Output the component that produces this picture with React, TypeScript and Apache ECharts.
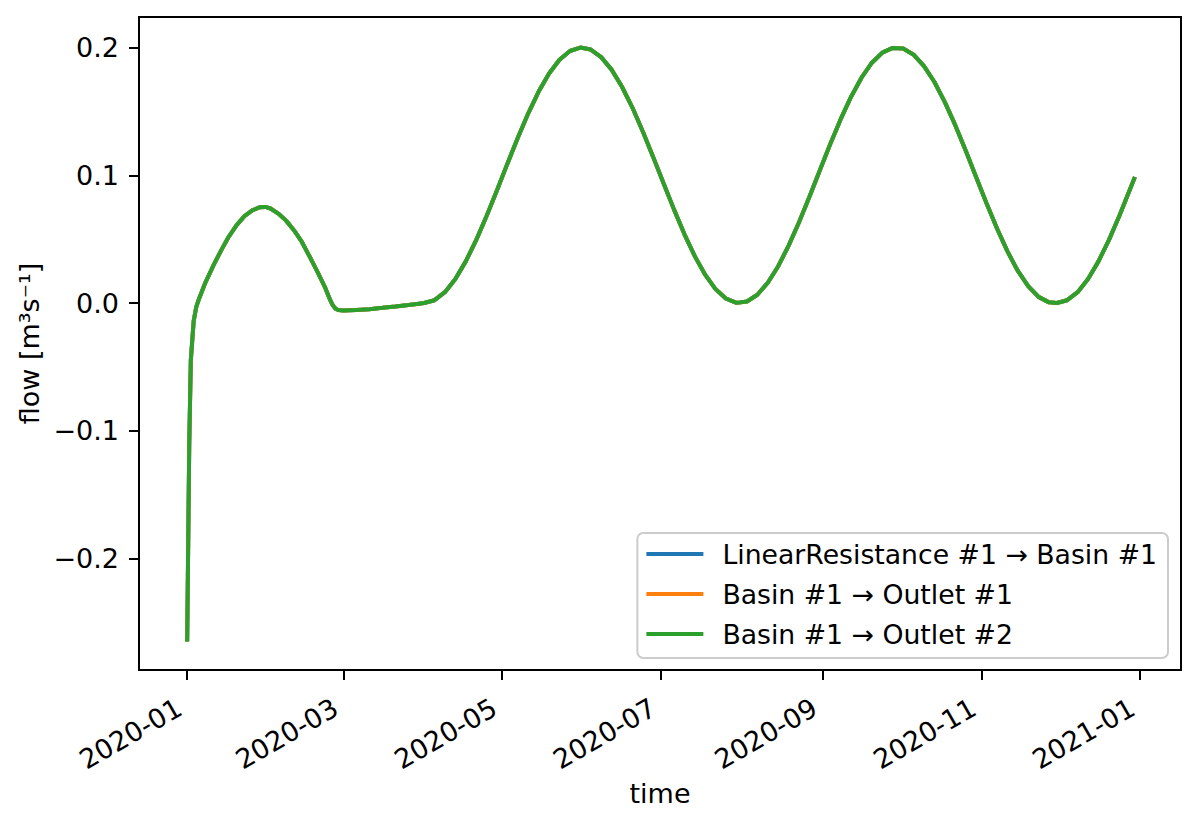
import React, { useEffect, useRef } from "react";
import * as echarts from "echarts";

// ---- data ----
const START_DATE = "2020-01-01";

// days since START_DATE
const dayOffsets: number[] = [
  0, 0.8, 1.4, 2.5, 3.5, 4.5, 7, 10, 13, 16, 19, 22, 25, 28, 30, 32, 35, 38, 41, 44, 47, 50, 53, 55, 56, 57, 58,
  60, 65, 70, 75, 80, 85, 89,
  91, 95, 99, 103, 107, 111, 115, 119, 123, 127, 131, 135, 139, 143, 147, 151, 155, 159, 163, 167, 171, 175, 179,
  183, 187, 191, 195, 199, 203, 207, 211,
  215, 219, 223, 227, 231, 235, 239, 243, 247, 251, 255, 259, 263, 267, 271, 275, 279, 283, 287, 291, 295, 299,
  303, 307, 311, 315, 319, 323, 327, 331,
  334, 338, 342, 346, 350, 354, 358, 361, 364,
];

// flow [m3/s]; the three series coincide, so they share these values
const flowValues: number[] = [
  -0.265, -0.11, -0.045, -0.014, -0.003, 0.003, 0.016, 0.029, 0.041, 0.052, 0.061, 0.068, 0.0725, 0.075, 0.0752,
  0.074, 0.07, 0.0645, 0.057, 0.048, 0.0365, 0.0245, 0.012, 0.002, -0.002, -0.0045, -0.0055,
  -0.0058, -0.0055, -0.0048, -0.0038, -0.0027, -0.0015, -0.0005,
  0.0, 0.0022, 0.0085, 0.0188, 0.0326, 0.0492, 0.0681, 0.0883, 0.1091, 0.1294, 0.1485, 0.1655, 0.1797, 0.1904,
  0.1973, 0.2, 0.1984, 0.1925, 0.1827, 0.1693, 0.153, 0.1343, 0.1142,
  0.0935, 0.0731, 0.0538, 0.0365, 0.022, 0.0107, 0.0034, 0.0001,
  0.0012, 0.0065, 0.0159, 0.0288, 0.0449, 0.0632, 0.0832, 0.1039, 0.1244, 0.1439, 0.1615, 0.1764, 0.1881, 0.196,
  0.1997, 0.1992, 0.1944, 0.1855, 0.173, 0.1573, 0.1392, 0.1194, 0.0987, 0.0781, 0.0585,
  0.0406, 0.0253, 0.0132, 0.0048, 0.0005,
  0.0, 0.0022, 0.0085, 0.0188, 0.0326, 0.0492, 0.0681, 0.0833, 0.0986,
];

const seriesNames: string[] = [
  "LinearResistance #1 \u2192 Basin #1",
  "Basin #1 \u2192 Outlet #1",
  "Basin #1 \u2192 Outlet #2",
];
const seriesColors: string[] = ["#1f77b4", "#ff7f0e", "#2ca02c"];

const xTickLabels: string[] = ["2020-01", "2020-03", "2020-05", "2020-07", "2020-09", "2020-11", "2021-01"];
const yTickValues: number[] = [-0.2, -0.1, 0.0, 0.1, 0.2];

const X_NAME = "time";
const Y_NAME = "flow [m\u00b3s\u207b\u00b9]";

// ---- helpers ----
const DAY_MS = 86400000;
const startMs = Date.parse(START_DATE + "T00:00:00Z");
const xTickDays = xTickLabels.map((l) => {
  const [y, m] = l.split("-").map(Number);
  return Math.round((Date.UTC(y, m - 1, 1) - startMs) / DAY_MS);
});
const xLabelFor = (v: number) => {
  const i = xTickDays.findIndex((d) => Math.abs(d - v) < 0.5);
  return i >= 0 ? xTickLabels[i] : "";
};
const yLabelFor = (v: number) => (v < -1e-9 ? "\u2212" : "") + Math.abs(v).toFixed(1);

const FONT = "DejaVu Sans";
const FS = 27;
const LEGEND_FS = 26.7;

export default function App() {
  const ref = useRef<HTMLDivElement>(null);

  useEffect(() => {
    if (!ref.current) return;
    const chart = echarts.init(ref.current, undefined, { renderer: "svg" });
    const points = dayOffsets.map((d, i) => [d, flowValues[i]]);

    chart.setOption({
      animation: false,
      backgroundColor: "#ffffff",
      textStyle: { fontFamily: FONT, color: "#000" },
      grid: {
        left: 139,
        right: 19,
        top: 17,
        bottom: 154,
        show: true,
        borderColor: "#000",
        borderWidth: 2,
        backgroundColor: "transparent",
      },
      xAxis: {
        type: "value",
        min: -18.5,
        max: 381.7,
        splitLine: { show: false },
        axisLine: { show: true, onZero: false, lineStyle: { color: "#000", width: 2 } },
        axisTick: {
          show: true,
          length: 10,
          customValues: xTickDays,
          lineStyle: { color: "#000", width: 2 },
        },
        axisLabel: {
          customValues: xTickDays,
          formatter: (v: number) => xLabelFor(v),
          rotate: 30,
          margin: 31,
          padding: [0, 9, 0, 0],
          fontSize: FS,
          color: "#000",
          fontFamily: FONT,
        },
        name: X_NAME,
        nameLocation: "middle",
        nameGap: 105,
        nameTextStyle: { fontSize: FS, color: "#000", fontFamily: FONT },
      },
      yAxis: {
        type: "value",
        min: -0.2873,
        max: 0.2239,
        splitLine: { show: false },
        axisLine: { show: true, onZero: false, lineStyle: { color: "#000", width: 2 } },
        axisTick: {
          show: true,
          length: 10,
          customValues: yTickValues,
          lineStyle: { color: "#000", width: 2 },
        },
        axisLabel: {
          customValues: yTickValues,
          formatter: (v: number) => yLabelFor(v),
          margin: 20,
          fontSize: FS,
          color: "#000",
          fontFamily: FONT,
        },
        name: Y_NAME,
        nameLocation: "middle",
        nameRotate: 90,
        nameGap: 93,
        nameTextStyle: { fontSize: FS, color: "#000", fontFamily: FONT },
      },
      legend: {
        orient: "vertical",
        right: 32,
        bottom: 166,
        data: seriesNames.map((n) => ({ name: n, icon: "rect" })),
        itemWidth: 57,
        itemHeight: 4,
        itemGap: 12,
        padding: [7, 11, 10, 9],
        borderColor: "#cccccc",
        borderWidth: 2,
        borderRadius: 6,
        backgroundColor: "rgba(255,255,255,0.8)",
        textStyle: {
          fontSize: LEGEND_FS,
          color: "#000",
          fontFamily: FONT,
          padding: [0, 0, 0, 14],
          lineHeight: 28,
        },
        selectedMode: false,
      },
      series: seriesNames.map((name, i) => ({
        name,
        type: "line",
        data: points,
        symbol: "none",
        showSymbol: false,
        smooth: false,
        color: seriesColors[i],
        lineStyle: { width: 4, color: seriesColors[i] },
        itemStyle: { color: seriesColors[i] },
        silent: true,
        z: 2 + i,
      })),
    });

    return () => chart.dispose();
  }, []);

  return (
    <div
      ref={ref}
      style={{ position: "absolute", left: 0, top: 0, width: 1200, height: 824, background: "#fff" }}
    />
  );
}
